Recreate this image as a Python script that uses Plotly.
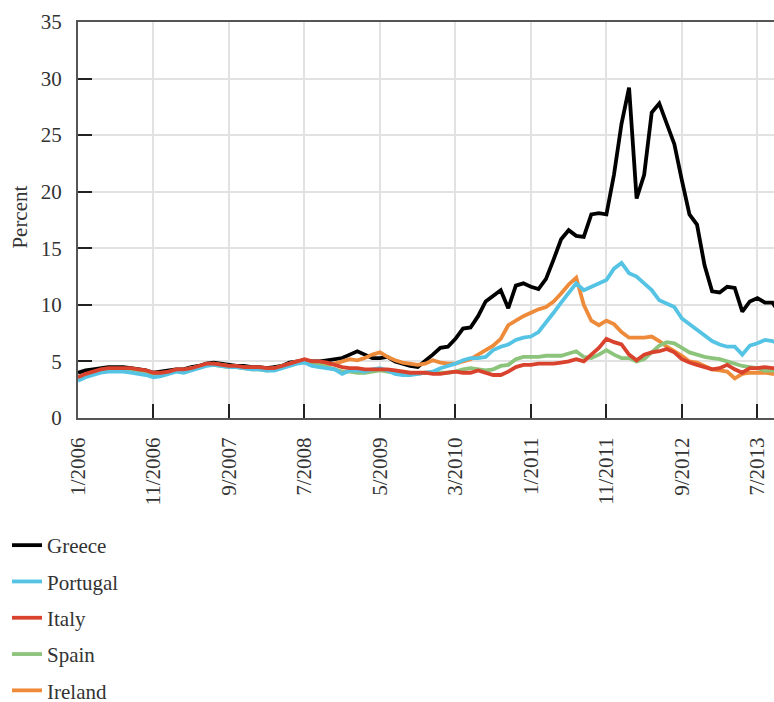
import plotly.graph_objects as go

# Month labels, 1/2006 .. 10/2013
months = [f"{(m % 12) + 1}/{2006 + m // 12}" for m in range(94)]
tick_labels = ["1/2006", "11/2006", "9/2007", "7/2008", "5/2009",
               "3/2010", "1/2011", "11/2011", "9/2012", "7/2013"]

greece = [4.0, 4.2, 4.3, 4.4, 4.5, 4.5, 4.5, 4.4, 4.3, 4.2, 4.0, 4.1, 4.2, 4.3, 4.3, 4.5,
          4.6, 4.8, 4.9, 4.8, 4.7, 4.6, 4.6, 4.5, 4.5, 4.4, 4.5, 4.6, 4.9, 5.0, 5.1, 5.0,
          5.0, 5.1, 5.2, 5.3, 5.6, 5.9, 5.6, 5.3, 5.3, 5.4, 5.0, 4.8, 4.6, 4.5, 5.0, 5.6,
          6.2, 6.3, 7.0, 7.9, 8.0, 9.0, 10.3, 10.8, 11.3, 9.7, 11.7, 11.9, 11.6, 11.4,
          12.3, 14.0, 15.8, 16.6, 16.1, 16.0, 18.0, 18.1, 18.0, 21.5, 26.0, 29.2, 19.4,
          21.5, 27.0, 27.8, 26.0, 24.2, 21.0, 18.0, 17.1, 13.5, 11.2, 11.1, 11.6, 11.5,
          9.4, 10.3, 10.6, 10.2, 10.2, 9.2]
portugal = [3.3, 3.6, 3.8, 4.0, 4.1, 4.1, 4.1, 4.0, 3.9, 3.8, 3.6, 3.7, 3.9, 4.1, 4.0, 4.2,
            4.4, 4.6, 4.7, 4.6, 4.5, 4.5, 4.4, 4.3, 4.3, 4.2, 4.2, 4.4, 4.6, 4.8, 4.9, 4.6,
            4.5, 4.4, 4.3, 3.9, 4.2, 4.2, 4.1, 4.3, 4.4, 4.2, 3.9, 3.8, 3.8, 3.9, 4.0, 4.1,
            4.4, 4.6, 4.8, 5.1, 5.3, 5.3, 5.4, 6.0, 6.3, 6.5, 6.9, 7.1, 7.2, 7.6, 8.4, 9.3,
            10.2, 11.0, 11.9, 11.3, 11.6, 11.9, 12.2, 13.2, 13.7, 12.8, 12.5, 11.9, 11.3,
            10.4, 10.1, 9.8, 8.8, 8.3, 7.8, 7.2, 6.8, 6.5, 6.3, 6.3, 5.6, 6.4, 6.6, 6.9,
            6.8, 6.5]
italy = [3.6, 3.9, 4.1, 4.3, 4.4, 4.4, 4.4, 4.4, 4.3, 4.2, 4.0, 4.0, 4.1, 4.3, 4.3, 4.4,
         4.6, 4.8, 4.8, 4.7, 4.6, 4.6, 4.5, 4.5, 4.5, 4.4, 4.4, 4.6, 4.8, 5.0, 5.2, 5.0,
         5.0, 4.9, 4.7, 4.5, 4.4, 4.4, 4.3, 4.3, 4.3, 4.3, 4.2, 4.1, 4.0, 4.0, 4.0, 3.9,
         3.9, 4.0, 4.1, 4.0, 4.0, 4.2, 4.0, 3.8, 3.8, 4.1, 4.5, 4.7, 4.7, 4.8, 4.8, 4.8,
         4.9, 5.0, 5.2, 5.0, 5.6, 6.2, 7.0, 6.7, 6.5, 5.6, 5.1, 5.6, 5.8, 5.9, 6.1, 5.8,
         5.2, 4.9, 4.7, 4.5, 4.3, 4.4, 4.7, 4.3, 4.0, 4.4, 4.4, 4.5, 4.4, 4.4]
spain = [3.5, 3.8, 4.0, 4.2, 4.3, 4.3, 4.3, 4.2, 4.1, 4.0, 3.8, 3.8, 4.0, 4.2, 4.2, 4.4,
         4.5, 4.7, 4.7, 4.6, 4.5, 4.5, 4.4, 4.3, 4.3, 4.2, 4.3, 4.5, 4.7, 4.9, 5.0, 4.8,
         4.7, 4.5, 4.3, 4.1, 4.1, 4.0, 4.0, 4.1, 4.2, 4.1, 4.0, 3.9, 3.9, 3.9, 4.0, 4.0,
         4.0, 4.0, 4.1, 4.3, 4.4, 4.3, 4.2, 4.3, 4.6, 4.7, 5.2, 5.4, 5.4, 5.4, 5.5, 5.5,
         5.5, 5.7, 5.9, 5.4, 5.3, 5.6, 6.0, 5.6, 5.3, 5.3, 5.0, 5.2, 5.8, 6.4, 6.7, 6.6,
         6.2, 5.8, 5.6, 5.4, 5.3, 5.2, 5.0, 4.8, 4.6, 4.5, 4.4, 4.2, 4.2, 4.2]
ireland = [3.5, 3.8, 4.0, 4.2, 4.3, 4.3, 4.3, 4.2, 4.1, 4.0, 3.8, 3.8, 4.0, 4.2, 4.2, 4.4,
           4.5, 4.7, 4.8, 4.7, 4.6, 4.5, 4.5, 4.4, 4.4, 4.3, 4.4, 4.6, 4.8, 5.0, 5.1, 4.9,
           4.8, 4.7, 4.8, 5.0, 5.2, 5.1, 5.3, 5.6, 5.8, 5.4, 5.1, 4.9, 4.8, 4.7, 4.8, 5.1,
           4.9, 4.8, 4.8, 5.0, 5.2, 5.6, 6.0, 6.4, 7.0, 8.2, 8.6, 9.0, 9.3, 9.6, 9.8, 10.3,
           11.0, 11.8, 12.4, 10.0, 8.6, 8.2, 8.6, 8.3, 7.6, 7.1, 7.1, 7.1, 7.2, 6.8, 6.3,
           5.9, 5.5, 5.0, 4.9, 4.6, 4.3, 4.2, 4.1, 3.5, 3.9, 4.0, 4.0, 4.0, 3.9, 3.9]

# drawing order (bottom -> top), with legend rank
series = [
    ("Greece", greece, "#000000", 1),
    ("Ireland", ireland, "#EE8B3A", 5),
    ("Spain", spain, "#8CC47C", 4),
    ("Portugal", portugal, "#55C3E4", 2),
    ("Italy", italy, "#D9432E", 3),
]

FONT = "Liberation Serif"
TXT = "#333333"

fig = go.Figure()
for name, vals, col, rank in series:
    fig.add_trace(go.Scatter(
        x=months, y=vals, name=name, mode="lines",
        line=dict(color=col, width=3.8), legendgroup=name, legendrank=rank,
    ))

fig.add_annotation(
    text="Percent", textangle=-90, showarrow=False,
    xref="paper", yref="paper", x=(20 - 78) / 696, y=0.506,
    xanchor="center", yanchor="middle",
    font=dict(family=FONT, size=21, color=TXT),
)

fig.update_layout(
    width=774, height=702,
    margin=dict(l=78, r=0, t=22, b=284, autoexpand=False),
    paper_bgcolor="white", plot_bgcolor="white",
    font=dict(family=FONT, size=21, color=TXT),
    showlegend=True,
    legend=dict(
        traceorder="grouped", tracegroupgap=6,
        xref="container", yref="container",
        x=7 / 774, xanchor="left", y=1 - 525 / 702, yanchor="top",
        font=dict(family=FONT, size=21, color=TXT),
        bgcolor="rgba(0,0,0,0)",
    ),
    xaxis=dict(
        type="category", range=[0, 92.2], automargin=False,
        tickmode="array", tickvals=tick_labels, ticktext=tick_labels,
        tickangle=-90, ticks="inside", ticklen=14, tickwidth=2, tickcolor="#222",
        showline=True, linecolor="#555", linewidth=2, mirror=True,
        showgrid=True, gridcolor="#e2e2e2", gridwidth=1.5,
        tickfont=dict(family=FONT, size=21, color=TXT),
        ticklabelstandoff=9,
    ),
    yaxis=dict(
        range=[0, 35], dtick=5, tick0=0, automargin=False,
        ticks="inside", ticklen=14, tickwidth=2, tickcolor="#222",
        showline=True, linecolor="#555", linewidth=2,
        showgrid=True, gridcolor="#e2e2e2", gridwidth=1.5,
        zeroline=False,
        tickfont=dict(family=FONT, size=21, color=TXT),
        ticklabelstandoff=10,
    ),
)

fig.write_html(
    "out.html",
    config={"displayModeBar": False},
    post_script="document.body.style.margin='0';document.body.style.overflow='hidden';",
)
